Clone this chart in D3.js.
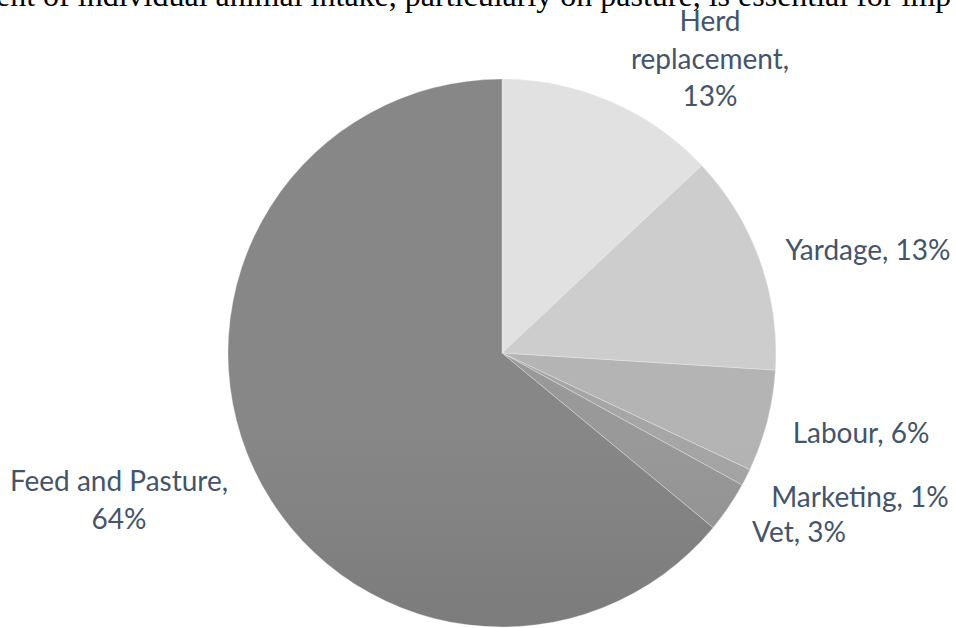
<!DOCTYPE html>
<html>
<head>
<meta charset="utf-8">
<script src="https://cdn.jsdelivr.net/npm/d3@7"></script>
<style>
  html, body { margin: 0; padding: 0; background: #fff; }
  svg { display: block; }
</style>
</head>
<body>
<svg id="chart" width="956" height="628"></svg>
<script>
// Cost breakdown, clockwise from 12 o'clock
const categories = ["Herd replacement", "Yardage", "Labour", "Marketing", "Vet", "Feed and Pasture"];
const shares = [13, 13, 6, 1, 3, 64];
// Grey level of each slice at the pie's vertical centre
const greyLevels = [209, 189, 164, 150, 137, 119];
// Label lines, one array per slice
const labelLines = [
  ["Herd", "replacement,", "13%"],
  ["Yardage, 13%"],
  ["Labour, 6%"],
  ["Marketing, 1%"],
  ["Vet, 3%"],
  ["Feed and Pasture,", "64%"]
];
// Label centre (x) and first baseline (y)
const labelAt = [
  [710, 31],
  [868, 260],
  [861, 443],
  [860, 507],
  [799, 542],
  [119, 491]
];

const width = 956, height = 628;
const cx = 502, cy = 353, R = 274;
const lineH = 37.5;

const svg = d3.select("#chart");

// Line of body text above the chart, running off the top edge
svg.append("text")
  .attr("x", -4)
  .attr("y", 6)
  .attr("font-family", "'Liberation Serif', 'Times New Roman', serif")
  .attr("font-size", 32)
  .attr("fill", "#000")
  .text("ent of individual animal intake, particularly on pasture, is essential for imp");

const defs = svg.append("defs");
const grad = defs.selectAll("linearGradient")
  .data(greyLevels)
  .join("linearGradient")
  .attr("id", (d, i) => "g" + i)
  .attr("gradientUnits", "userSpaceOnUse")
  .attr("x1", 0).attr("x2", 0)
  .attr("y1", cy - R).attr("y2", cy + R);
const rgb = v => d3.rgb(v, v, v).formatHex();
grad.append("stop").attr("offset", 0).attr("stop-color", d => rgb(Math.min(255, d + 16)));
grad.append("stop").attr("offset", 1).attr("stop-color", d => rgb(d - 15));

const pie = d3.pie().sort(null).value(d => d);
const arc = d3.arc().innerRadius(0).outerRadius(R);
const arcs = pie(shares);

const g = svg.append("g").attr("transform", `translate(${cx},${cy})`);
g.selectAll("path")
  .data(arcs)
  .join("path")
  .attr("d", arc)
  .attr("fill", (d, i) => `url(#g${i})`)
  .attr("stroke", "#f2f2f2")
  .attr("stroke-opacity", 0.45)
  .attr("stroke-width", 0.8);

// Data labels
const labels = svg.append("g")
  .attr("font-family", "Lato, 'Open Sans', sans-serif")
  .attr("font-size", 28)
  .attr("fill", "#44546a")
  .attr("text-anchor", "middle");

labels.selectAll("text")
  .data(categories)
  .join("text")
  .attr("x", (d, i) => labelAt[i][0])
  .attr("y", (d, i) => labelAt[i][1])
  .each(function (d, i) {
    d3.select(this).selectAll("tspan")
      .data(labelLines[i])
      .join("tspan")
      .attr("x", labelAt[i][0])
      .attr("dy", (t, j) => j === 0 ? 0 : lineH)
      .text(t => t);
  });
</script>
</body>
</html>
